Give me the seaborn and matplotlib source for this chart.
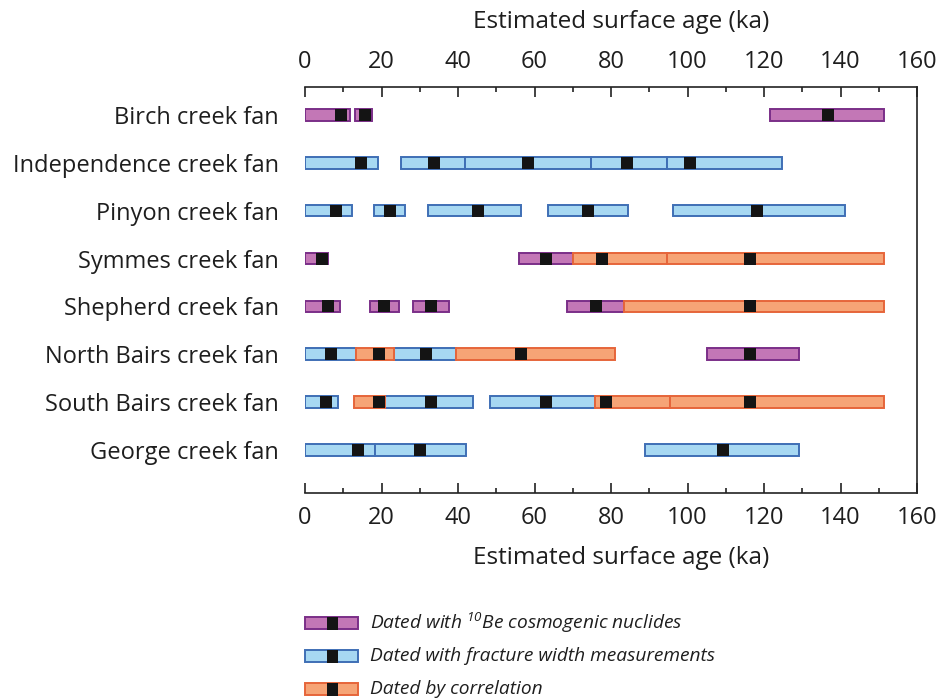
import matplotlib
matplotlib.use("Agg")
import matplotlib.pyplot as plt
from matplotlib.patches import Rectangle
from matplotlib.ticker import MultipleLocator
import pandas as pd
import seaborn as sns

# Alluvial fans (top to bottom)
fans = ["Birch creek fan", "Independence creek fan", "Pinyon creek fan",
        "Symmes creek fan", "Shepherd creek fan", "North Bairs creek fan",
        "South Bairs creek fan", "George creek fan"]

# One entry per surface: fan index, age range (ka), best age (ka), dating method
seg_fan = [0, 0, 0,
           1, 1, 1, 1, 1,
           2, 2, 2, 2, 2,
           3, 3, 3, 3,
           4, 4, 4, 4, 4,
           5, 5, 5, 5, 5,
           6, 6, 6, 6, 6, 6,
           7, 7, 7]
seg_start = [0, 13, 121.6,
             0, 25.1, 41.8, 74.8, 94.6,
             0, 18, 32.2, 63.4, 96.1,
             0, 56, 70, 94.7,
             0, 17, 28.3, 68.4, 83.5,
             0, 13.3, 23.3, 39.4, 105,
             0, 12.9, 21, 48.4, 75.8, 95.4,
             0, 18.3, 88.9]
seg_end = [11.8, 17.4, 151.4,
           19.2, 41.8, 74.8, 94.6, 124.6,
           12.2, 26.1, 56.6, 84.4, 141.2,
           6.1, 70, 94.7, 151.4,
           9.2, 24.7, 37.7, 83.5, 151.4,
           13.3, 23.3, 39.4, 81, 129.2,
           8.7, 21, 43.8, 75.8, 95.4, 151.4,
           18.3, 42.1, 129.2]
seg_age = [9.5, 15.7, 136.8,
           14.6, 33.8, 58.3, 84.3, 100.7,
           8.1, 22.2, 45.1, 74.1, 118.3,
           4.5, 63, 77.6, 116.3,
           6, 20.7, 33, 76, 116.3,
           6.8, 19.4, 31.6, 56.6, 116.3,
           5.4, 19.3, 32.9, 63, 78.8, 116.3,
           13.9, 30.1, 109.4]
seg_method = ["Be", "Be", "Be",
              "FW", "FW", "FW", "FW", "FW",
              "FW", "FW", "FW", "FW", "FW",
              "Be", "Be", "CO", "CO",
              "Be", "Be", "Be", "Be", "CO",
              "FW", "CO", "FW", "CO", "Be",
              "FW", "CO", "FW", "FW", "CO", "CO",
              "FW", "FW", "FW"]

methods = ["Be", "FW", "CO"]
method_labels = [r"Dated with $^{10}$Be cosmogenic nuclides",
                 "Dated with fracture width measurements",
                 "Dated by correlation"]
fill_colors = {"Be": "#c377b6", "FW": "#a7d8f2", "CO": "#f6a476"}
edge_colors = {"Be": "#7b2f88", "FW": "#3f6fb5", "CO": "#e6653a"}

x_ticks = [0, 20, 40, 60, 80, 100, 120, 140, 160]

df = pd.DataFrame({"fan": seg_fan, "start": seg_start, "end": seg_end,
                   "age": seg_age, "method": seg_method})

sns.set_theme(style="white")
plt.rcParams["font.family"] = ["Open Sans", "DejaVu Sans"]
plt.rcParams["mathtext.fontset"] = "custom"
plt.rcParams["mathtext.rm"] = "Open Sans:italic"
plt.rcParams["mathtext.it"] = "Open Sans:italic"
text_color = "#1e1e1e"

fig = plt.figure(figsize=(9.38, 7.0), dpi=100)
ax = fig.add_axes([305 / 938, 1 - 493 / 700, 612 / 938, 406 / 700])

bar_h = 0.242
for m in methods:
    sub = df[df["method"] == m]
    ax.barh(sub["fan"], sub["end"] - sub["start"], left=sub["start"],
            height=bar_h, color=fill_colors[m], edgecolor=edge_colors[m],
            linewidth=1.4, zorder=2)

# best-estimate age markers
sns.scatterplot(data=df, x="age", y="fan", marker="s", s=70, color="#141414",
                linewidth=0, legend=False, zorder=3, ax=ax)

ax.set_xlim(0, 160)
ax.set_ylim(7.9, -0.585)
ax.set_yticks(range(len(fans)))
ax.set_yticklabels(fans, fontsize=17, color=text_color)
ax.set_xticks(x_ticks)
ax.xaxis.set_minor_locator(MultipleLocator(10))
ax.tick_params(axis="y", length=0, pad=19)
ax.tick_params(axis="x", which="both", direction="in", top=True, bottom=True,
               labeltop=True, labelbottom=True, labelsize=17,
               labelcolor=text_color, color="#222222", pad=9)
ax.tick_params(axis="x", which="major", length=7, width=1.2)
ax.tick_params(axis="x", which="minor", length=3.5, width=1.2)
ax.set_xlabel("Estimated surface age (ka)", fontsize=17.5, color=text_color)
ax.xaxis.set_label_coords(0.516, -0.13)
ax.set_ylabel("")
ax.text(0.516, 1.0 + 53 / 406, "Estimated surface age (ka)",
        transform=ax.transAxes, ha="center", va="bottom", fontsize=17.5,
        color=text_color)

for side in ["top", "bottom", "right"]:
    ax.spines[side].set_visible(True)
    ax.spines[side].set_color("#222222")
    ax.spines[side].set_linewidth(1.2)
ax.spines["left"].set_visible(False)
ax.grid(False)

# legend drawn in figure pixel space
lax = fig.add_axes([0, 0, 1, 1], facecolor="none")
lax.set_xlim(0, 938)
lax.set_ylim(700, 0)
lax.axis("off")
for i, (m, lab) in enumerate(zip(methods, method_labels)):
    yc = 623 + i * 33
    lax.add_patch(Rectangle((305, yc - 6), 53, 12, facecolor=fill_colors[m],
                            edgecolor=edge_colors[m], linewidth=1.4))
    lax.add_patch(Rectangle((326.5, yc - 6.5), 11, 13, facecolor="#141414",
                            edgecolor="none"))
    lax.text(370, yc, lab, fontsize=13.8, style="italic", va="center",
             ha="left", color=text_color)

fig.savefig("out.png", dpi=100)
